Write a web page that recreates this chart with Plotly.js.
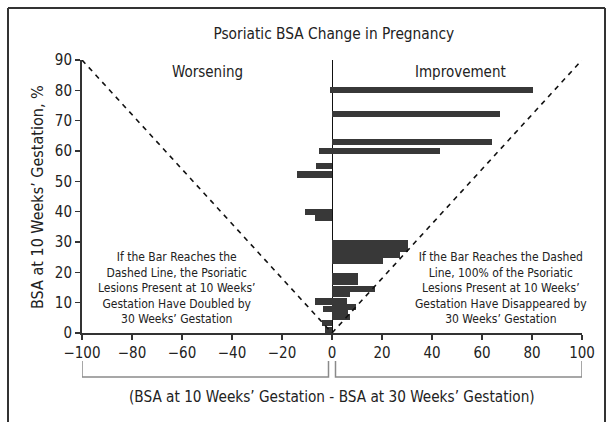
<!DOCTYPE html>
<html>
<head>
<meta charset="utf-8">
<script src="https://cdn.plot.ly/plotly-3.0.1.min.js"></script>
<style>
html,body{margin:0;padding:0;background:#fff;}
#chart{width:608px;height:422px;}
</style>
</head>
<body>
<div id="chart"></div>
<script>
// BSA at 10 weeks (y) and change (x) for improving patients
const improveBSA10 = [80.1, 72.1, 63.0, 60.1, 29.7, 27.9, 25.9, 23.8, 18.7, 16.8, 14.6, 12.9, 10.4, 8.6, 7.0, 5.3];
const improveChange = [80.5, 67.3, 64.0, 43.1, 30.4, 30.4, 27.0, 20.2, 10.2, 10.2, 17.2, 7.0, 5.9, 9.5, 6.2, 7.0];
// BSA at 10 weeks (y) and change (x) for worsening patients
const worsenBSA10 = [80.1, 60.1, 55.1, 52.2, 39.8, 38.1, 10.4, 8.0, 3.2, 1.0];
const worsenChange = [-0.8, -5.3, -6.4, -14.1, -10.9, -7.0, -7.0, -3.7, -4.1, -2.8];
// reference lines: change at which 100% cleared / doubled
const refLeftX = [-100, 0];
const refLeftY = [90, 0];
const refRightX = [0, 100];
const refRightY = [0, 90];
const xTicks = [-100, -80, -60, -40, -20, 0, 20, 40, 60, 80, 100];
const yTicks = [0, 10, 20, 30, 40, 50, 60, 70, 80, 90];

const FONT = '"Liberation Sans Narrow", "DejaVu Sans Condensed", "Liberation Sans", sans-serif';
const BAR = '#383838';

const traces = [
  {type:'bar', orientation:'h', y:improveBSA10, x:improveChange, width:2.1,
   marker:{color:BAR, line:{width:0}}, hoverinfo:'skip'},
  {type:'bar', orientation:'h', y:worsenBSA10, x:worsenChange, width:2.1,
   marker:{color:BAR, line:{width:0}}, hoverinfo:'skip'},
  {type:'scatter', mode:'lines', x:refLeftX, y:refLeftY,
   line:{color:'#111', width:1.6, dash:'5px,5px'}, hoverinfo:'skip'},
  {type:'scatter', mode:'lines', x:refRightX, y:refRightY,
   line:{color:'#111', width:1.6, dash:'5px,5px'}, hoverinfo:'skip'}
];

const gray = '#8a8a8a';
const layout = {
  width:608, height:422,
  margin:{l:82, r:26, t:60, b:89},
  paper_bgcolor:'#fff', plot_bgcolor:'#fff',
  showlegend:false, barmode:'overlay', bargap:0,
  font:{family:FONT, color:'#222', size:15},
  title:{text:'Psoriatic BSA Change in Pregnancy', font:{family:FONT, size:15.3, color:'#222'},
         x:0.549, xanchor:'center', y:1-34/422, yanchor:'middle'},
  xaxis:{range:[-100,100], tickvals:xTicks, ticktext:xTicks.map(v=>v<0?'\u2212'+Math.abs(v):String(v)),
         showgrid:false, zeroline:true, zerolinecolor:'#111', zerolinewidth:1,
         showline:true, linecolor:'#333', linewidth:2, ticks:'outside', ticklen:5, tickcolor:'#333', tickwidth:1.5,
         tickfont:{family:FONT, size:15, color:'#222'}, fixedrange:true},
  yaxis:{range:[0,90], tickvals:yTicks, showgrid:false, zeroline:false,
         showline:true, linecolor:'#333', linewidth:2, ticks:'outside', ticklen:5, tickcolor:'#333', tickwidth:1.5,
         tickfont:{family:FONT, size:15, color:'#222'}, fixedrange:true},
  annotations:[
    {text:'Worsening', x:-50, y:86.2, xref:'x', yref:'y', showarrow:false, font:{family:FONT, size:15, color:'#222'}},
    {text:'Improvement', x:51.2, y:86.2, xref:'x', yref:'y', showarrow:false, font:{family:FONT, size:15, color:'#222'}},
    {text:'If the Bar Reaches the<br>Dashed Line, the Psoriatic<br>Lesions Present at 10 Weeks\u2019<br>Gestation Have Doubled by<br>30 Weeks\u2019 Gestation',
     x:-62.2, y:15, xref:'x', yref:'y', showarrow:false, align:'center', font:{family:FONT, size:12, color:'#222'}},
    {text:'If the Bar Reaches the Dashed<br>Line, 100% of the Psoriatic<br>Lesions Present at 10 Weeks\u2019<br>Gestation Have Disappeared by<br>30 Weeks\u2019 Gestation',
     x:67.5, y:15, xref:'x', yref:'y', showarrow:false, align:'center', font:{family:FONT, size:12, color:'#222'}},
    {text:'BSA at 10 Weeks\u2019 Gestation, %', x:(37-82)/500, y:(333-197)/273, xref:'paper', yref:'paper',
     textangle:-90, showarrow:false, xanchor:'center', yanchor:'middle', font:{family:FONT, size:16, color:'#222'}},
    {text:'(BSA at 10 Weeks\u2019 Gestation - BSA at 30 Weeks\u2019 Gestation)', x:0.5, y:(333-397)/273,
     xref:'paper', yref:'paper', showarrow:false, xanchor:'center', yanchor:'middle', font:{family:FONT, size:15.2, color:'#222'}}
  ],
  shapes:[
    // brackets
    {type:'path', xref:'x', yref:'paper', path:'M -100 '+((333-361)/273)+' L -100 '+((333-377)/273)+' L -1.4 '+((333-377)/273)+' L -1.4 '+((333-361)/273),
     line:{color:gray, width:1.5}},
    {type:'path', xref:'x', yref:'paper', path:'M 1.4 '+((333-361)/273)+' L 1.4 '+((333-377)/273)+' L 100 '+((333-377)/273)+' L 100 '+((333-361)/273),
     line:{color:gray, width:1.5}},
    // frame
    {type:'line', xref:'paper', yref:'paper', x0:(8-82)/500, x1:(605-82)/500, y0:(333-8)/273, y1:(333-8)/273, line:{color:'#333', width:2}},
    {type:'line', xref:'paper', yref:'paper', x0:(8-82)/500, x1:(8-82)/500, y0:(333-8)/273, y1:(333-430)/273, line:{color:'#333', width:2}},
    {type:'line', xref:'paper', yref:'paper', x0:(605-82)/500, x1:(605-82)/500, y0:(333-8)/273, y1:(333-430)/273, line:{color:'#333', width:2}}
  ]
};

Plotly.newPlot('chart', traces, layout, {displayModeBar:false, staticPlot:true});
</script>
</body>
</html>
